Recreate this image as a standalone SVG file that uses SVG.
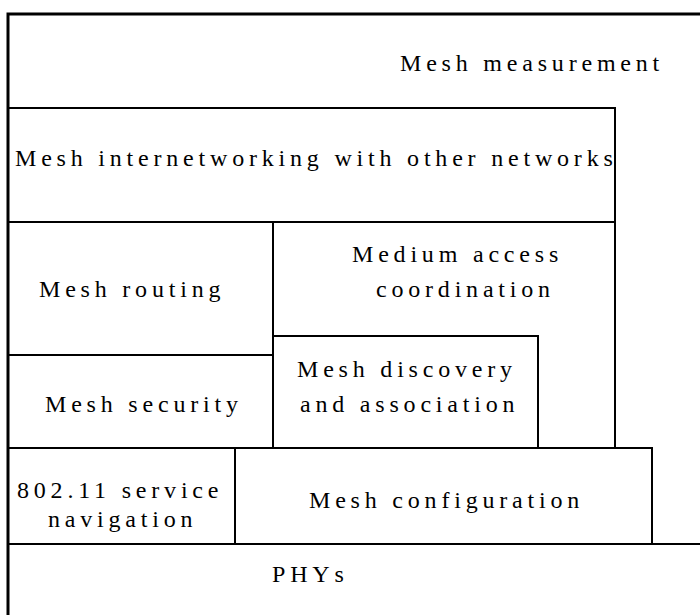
<svg xmlns="http://www.w3.org/2000/svg" width="700" height="615" viewBox="0 0 700 615">
<style>
.b{fill:none;stroke:#000;stroke-width:2}
.f{fill:none;stroke:#000;stroke-width:3}
text{font-family:"Liberation Serif","Times New Roman",serif;font-size:24px;letter-spacing:4.8px;fill:#000}
</style>
<rect width="700" height="615" fill="#fff"/>
<g id="frame"><path class="f" d="M8,615 V14 H700"/></g>
<g id="measurement"><text x="400" y="71">Mesh measurement</text></g>
<g id="internetworking"><rect class="b" x="8" y="108" width="607" height="114"/><text x="15" y="166">Mesh internetworking with other networks</text></g>
<g id="routing"><rect class="b" x="8" y="222" width="265" height="133"/><text x="39" y="297">Mesh routing</text></g>
<g id="medium"><rect class="b" x="273" y="222" width="342" height="226"/><text x="352" y="262">Medium access</text><text x="376" y="297">coordination</text></g>
<g id="security"><rect class="b" x="8" y="355" width="265" height="93"/><text x="45" y="412">Mesh security</text></g>
<g id="discovery"><rect class="b" x="273" y="336" width="265" height="112"/><text x="297" y="377">Mesh discovery</text><text x="300" y="412">and  association</text></g>
<g id="service"><rect class="b" x="8" y="448" width="227" height="96"/><text x="17" y="498">802.11 service</text><text x="48" y="527">navigation</text></g>
<g id="configuration"><rect class="b" x="235" y="448" width="417" height="96"/><text x="309" y="508">Mesh configuration</text></g>
<g id="phys"><path class="b" d="M8,544 H700"/><text x="272" y="582">PHYs</text></g>
<g id="connectors"></g>
</svg>
